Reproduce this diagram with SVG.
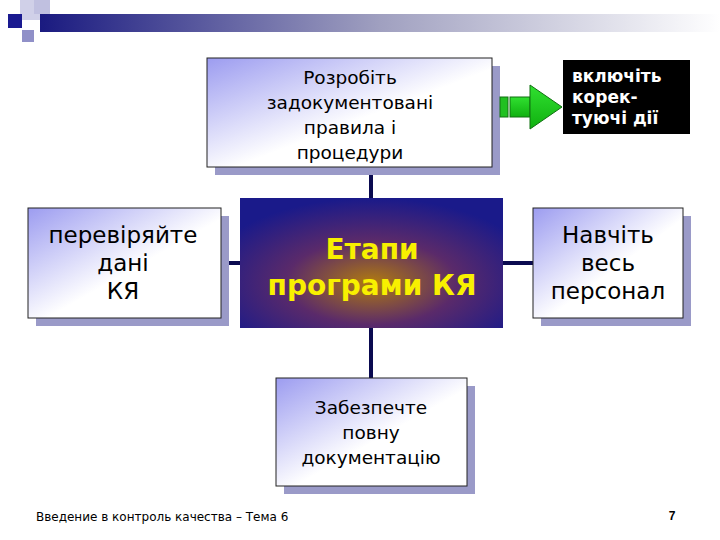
<svg xmlns="http://www.w3.org/2000/svg" width="720" height="540" viewBox="0 0 720 540">
<defs>
<linearGradient id="bar" x1="0" x2="1" y1="0" y2="0"><stop offset="0" stop-color="#1a1a80"/><stop offset="0.5" stop-color="#a0a0c0"/><stop offset="1" stop-color="#ffffff"/></linearGradient>
<linearGradient id="box" x1="0" y1="0" x2="1" y2="1"><stop offset="0" stop-color="#9c9cf0"/><stop offset="0.55" stop-color="#ffffff"/><stop offset="1" stop-color="#ffffff"/></linearGradient>
<radialGradient id="ctr" cx="0.5" cy="0.65" r="0.65"><stop offset="0" stop-color="#b07a10"/><stop offset="0.5" stop-color="#5a2a6a"/><stop offset="1" stop-color="#1a1a8a"/></radialGradient>
<linearGradient id="grn" x1="0" y1="0" x2="0" y2="1"><stop offset="0" stop-color="#30e030"/><stop offset="1" stop-color="#10b010"/></linearGradient>
<style>
.sh{fill:#9a9ac8}
.bx{fill:url(#box);stroke:#222;stroke-width:1}
.t{font-family:"DejaVu Sans",sans-serif;fill:#000;text-anchor:middle}
.ln{stroke:#0a0a50;stroke-width:4;fill:none}
</style>
</defs>
<rect x="0" y="0" width="720" height="540" fill="#fff"/>
<g id="header">
<rect x="20" y="0" width="30" height="20" fill="#d0d0e8"/>
<rect x="40" y="14" width="680" height="18" fill="url(#bar)"/>
<rect x="8" y="14" width="14" height="14" fill="#1a1a90"/>
<rect x="22" y="30" width="12" height="12" fill="#9090c8"/>
<rect x="34" y="0" width="16" height="14" fill="#c0c0e0"/>
</g>
<g id="connectors">
<line class="ln" x1="371" y1="167" x2="371" y2="198"/>
<line class="ln" x1="371" y1="328" x2="371" y2="378"/>
<line class="ln" x1="221" y1="263" x2="240" y2="263"/>
<line class="ln" x1="503" y1="263" x2="533" y2="263"/>
</g>
<g id="top">
<rect class="sh" x="215" y="66" width="285" height="109"/>
<rect class="bx" x="207" y="58" width="285" height="109"/>
<text class="t" font-size="18.5"><tspan x="350" y="84">Розробіть</tspan><tspan x="350" y="109">задокументовані</tspan><tspan x="350" y="134">правила і</tspan><tspan x="350" y="159">процедури</tspan></text>
</g>
<g id="left">
<rect class="sh" x="36" y="216" width="193" height="110"/>
<rect class="bx" x="28" y="208" width="193" height="110"/>
<text class="t" font-size="23"><tspan x="123" y="243">перевіряйте</tspan><tspan x="123" y="271">дані</tspan><tspan x="123" y="299">КЯ</tspan></text>
</g>
<g id="center">
<rect x="240" y="198" width="263" height="130" fill="url(#ctr)"/>
<text class="t" font-size="28" font-weight="bold" style="fill:#f8f000"><tspan x="372" y="259">Етапи</tspan><tspan x="372" y="295">програми КЯ</tspan></text>
</g>
<g id="right">
<rect class="sh" x="541" y="216" width="150" height="110"/>
<rect class="bx" x="533" y="208" width="150" height="110"/>
<text class="t" font-size="23"><tspan x="608" y="243">Навчіть</tspan><tspan x="608" y="271">весь</tspan><tspan x="608" y="299">персонал</tspan></text>
</g>
<g id="bottom">
<rect class="sh" x="284" y="386" width="191" height="108"/>
<rect class="bx" x="276" y="378" width="191" height="108"/>
<text class="t" font-size="18.5"><tspan x="371" y="414">Забезпечте</tspan><tspan x="371" y="439">повну</tspan><tspan x="371" y="464">документацію</tspan></text>
</g>
<g id="arrow">
<rect x="500" y="97" width="8" height="20" fill="#20c020" stroke="#107010"/>
<rect x="510" y="97" width="20" height="20" fill="url(#grn)" stroke="#107010"/>
<path d="M530 85 L562 107 L530 129 Z" fill="url(#grn)" stroke="#107010"/>
</g>
<g id="black">
<rect x="563" y="60" width="127" height="74" fill="#000"/>
<text font-family="DejaVu Sans,sans-serif" font-size="17" font-weight="bold" fill="#fff"><tspan x="572" y="82">включіть</tspan><tspan x="572" y="103">корек-</tspan><tspan x="572" y="124">туючі дії</tspan></text>
</g>
<text x="36" y="521" font-family="DejaVu Sans,sans-serif" font-size="12" fill="#000">Введение в контроль качества – Тема 6</text>
<text x="672" y="520" font-family="Liberation Sans,sans-serif" font-size="12" font-weight="bold" text-anchor="middle">7</text>
</svg>
